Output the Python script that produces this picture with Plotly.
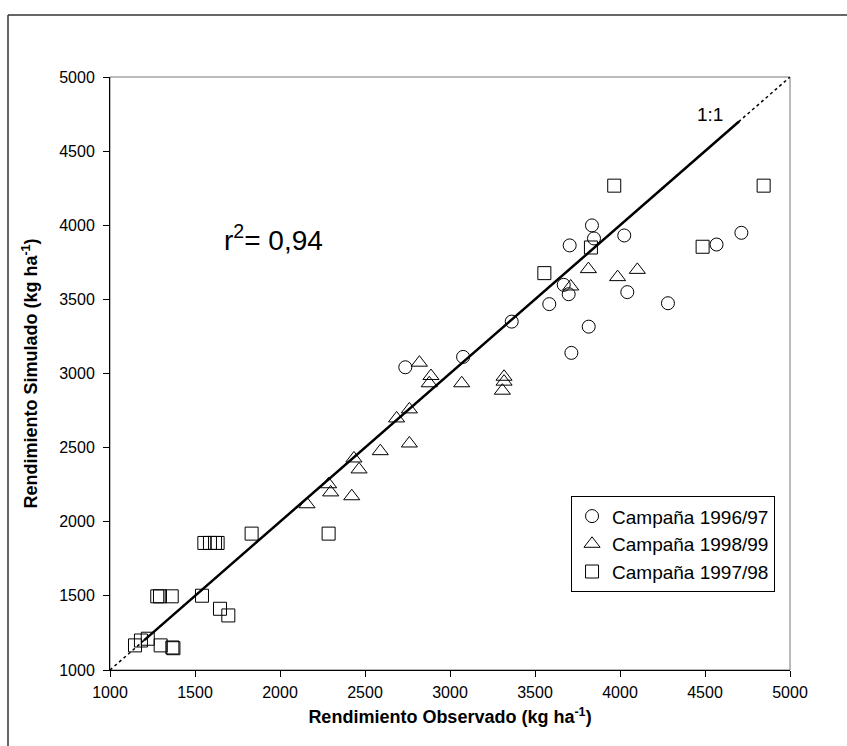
import plotly.graph_objects as go

# Campaña 1996/97 (circles)
obs_9697 = [3835, 3847, 3704, 4025, 4714, 4568, 3669, 3698, 3584, 4043, 4282, 3816, 3714, 3363, 3077, 2737]
sim_9697 = [3999, 3911, 3864, 3931, 3949, 3870, 3598, 3535, 3468, 3549, 3474, 3316, 3139, 3350, 3112, 3042]

# Campaña 1998/99 (triangles)
obs_9899 = [3814, 4102, 3986, 3710, 2820, 2888, 2878, 3069, 3318, 3318, 3308, 2761, 2686, 2761, 2590,
            2435, 2465, 2286, 2298, 2422, 2159]
sim_9899 = [3704, 3699, 3650, 3587, 3073, 2983, 2934, 2934, 2978, 2945, 2884, 2758, 2697, 2528, 2476,
            2427, 2353, 2253, 2198, 2172, 2118]

# Campaña 1997/98 (squares)
obs_9798 = [3966, 4845, 3829, 4486, 3555, 1833, 2286, 1555, 1588, 1618, 1633, 1278, 1294, 1363, 1541,
            1647, 1696, 1147, 1182, 1222, 1298, 1367, 1373]
sim_9798 = [4267, 4267, 3850, 3855, 3677, 1920, 1920, 1857, 1857, 1857, 1857, 1497, 1497, 1497, 1501,
            1413, 1368, 1166, 1199, 1211, 1166, 1152, 1147]

line_11 = [1000, 5000]
line_fit = [1200, 4700]

x_ticks = [1000, 1500, 2000, 2500, 3000, 3500, 4000, 4500, 5000]
y_ticks = [1000, 1500, 2000, 2500, 3000, 3500, 4000, 4500, 5000]

FONT = "Liberation Sans, Arial, sans-serif"

fig = go.Figure()
fig.add_trace(go.Scatter(x=line_11, y=line_11, mode="lines",
                         line=dict(color="black", width=1.5, dash="dot"),
                         showlegend=False, hoverinfo="skip"))
fig.add_trace(go.Scatter(x=line_fit, y=line_fit, mode="lines",
                         line=dict(color="black", width=2.5),
                         showlegend=False, hoverinfo="skip"))
fig.add_trace(go.Scatter(x=obs_9697, y=sim_9697, mode="markers", name="Campaña 1996/97",
                         marker=dict(symbol="circle-open", size=13, color="black",
                                     line=dict(width=1, color="black"))))
fig.add_trace(go.Scatter(x=obs_9899, y=sim_9899, mode="markers", name="Campaña 1998/99",
                         marker=dict(symbol="triangle-up-open", size=14, color="black",
                                     line=dict(width=1, color="black"))))
fig.add_trace(go.Scatter(x=obs_9798, y=sim_9798, mode="markers", name="Campaña 1997/98",
                         marker=dict(symbol="square-open", size=13, color="black",
                                     line=dict(width=1, color="black"))))

axis_common = dict(range=[1000, 5000], showgrid=False, zeroline=False,
                   showline=True, linecolor="black", linewidth=1,
                   ticks="outside", ticklen=6, tickcolor="black",
                   tickfont=dict(family=FONT, size=16, color="black"))

fig.update_xaxes(tickvals=x_ticks, ticktext=[str(v) for v in x_ticks],
                 ticklabelstandoff=2,
                 title=dict(text="<b>Rendimiento Observado (kg ha<sup>-1</sup>)</b>",
                            font=dict(family=FONT, size=18, color="black"), standoff=10),
                 **axis_common)
fig.update_yaxes(tickvals=y_ticks, ticktext=[str(v) for v in y_ticks],
                 ticklabelstandoff=5,
                 title=dict(text="<b>Rendimiento Simulado (kg ha<sup>-1</sup>)</b>",
                            font=dict(family=FONT, size=18, color="black"), standoff=16),
                 **axis_common)

fig.update_layout(
    width=847, height=746,
    margin=dict(l=110, r=57, t=77, b=76),
    plot_bgcolor="white", paper_bgcolor="white",
    font=dict(family=FONT, color="black"),
    legend=dict(x=0.678, y=0.293, xanchor="left", yanchor="top",
                bgcolor="white", bordercolor="black", borderwidth=1,
                font=dict(family=FONT, size=19, color="black"),
                tracegroupgap=0),
    shapes=[
        dict(type="rect", xref="paper", yref="paper", x0=0, x1=1, y0=0, y1=1,
             line=dict(color="#777777", width=1), layer="below"),
        # outer frame: only left and top edges are visible in the reference
        dict(type="line", xref="paper", yref="paper", x0=-0.15, x1=-0.15, y0=-0.2, y1=1.1046,
             line=dict(color="#333333", width=1.5), layer="below"),
        dict(type="line", xref="paper", yref="paper", x0=-0.15, x1=1.2, y0=1.1046, y1=1.1046,
             line=dict(color="#333333", width=1.5), layer="below"),
    ],
    annotations=[
        dict(x=1959, y=3916, xref="x", yref="y", text="r<sup>2</sup>= 0,94", showarrow=False,
             font=dict(family=FONT, size=28, color="black"), xanchor="center", yanchor="middle"),
        dict(x=4529, y=4747, xref="x", yref="y", text="1:1", showarrow=False,
             font=dict(family=FONT, size=19, color="black"), xanchor="center", yanchor="middle"),
    ],
)

fig.write_html("out.html")
